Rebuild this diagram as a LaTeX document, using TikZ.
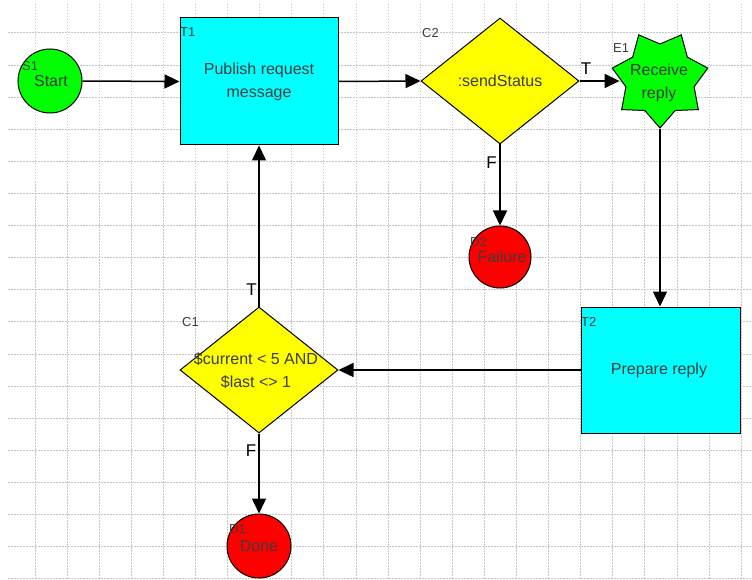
\documentclass[tikz,border=0pt]{standalone}
\usepackage{fontspec}
\setmainfont{Liberation Sans}
\usetikzlibrary{shapes.geometric,arrows.meta}
\definecolor{fgreen}{RGB}{0,255,0}
\definecolor{fcyan}{RGB}{0,255,255}
\definecolor{fyellow}{RGB}{255,255,0}
\definecolor{fred}{RGB}{255,0,0}
\definecolor{txt}{RGB}{60,60,60}
\tikzset{
  gridline/.style={draw=gray!45, line width=1pt, dash pattern=on 1.5pt off 1.5pt},
  shapeborder/.style={draw=black, line width=1pt, inner sep=0pt},
  eventnode/.style={shapeborder, circle, minimum size=64pt},
  tasknode/.style={shapeborder, rectangle, fill=fcyan, minimum width=158pt, minimum height=127pt},
  condnode/.style={shapeborder, diamond, fill=fyellow, minimum width=158pt, minimum height=126pt},
  maintext/.style={text=txt, font=\fontsize{16}{23}\selectfont, align=center, inner sep=0pt},
  idtext/.style={text=txt, font=\fontsize{13}{15}\selectfont, anchor=west, inner sep=0pt},
  tftext/.style={text=black, font=\fontsize{17}{19}\selectfont, inner sep=0pt},
  conn/.style={draw=black, line width=1.5pt, -{Triangle[length=15pt,width=14pt]}},
}
\begin{document}
\begin{tikzpicture}[x=1pt,y=-1pt]
\useasboundingbox (0,0) rectangle (752,580);
% grid
\foreach \k in {0,...,22} {\draw[gridline] ({35+32.1*\k},4) -- ({35+32.1*\k},580);}
\foreach \k in {0,...,17} {\draw[gridline] (8,{33+32.1*\k}) -- (752,{33+32.1*\k});}

% nodes
\node[eventnode, fill=fgreen] (s1) at (50,81) {};
\node[tasknode] (t1) at (259,81.5) {};
\node[condnode] (c2) at (500,81) {};
\node[shapeborder, star, star points=7, star point ratio=1.4, shape border rotate=180, minimum size=98pt, fill=fgreen] (e1) at (660,79) {};
\node[eventnode, fill=fred, minimum size=62pt] (d2) at (500,257) {};
\node[tasknode, minimum width=159pt, minimum height=126pt] (t2) at (660.5,370) {};
\node[condnode] (c1) at (259,370) {};
\node[eventnode, fill=fred] (d1) at (259,546) {};

% connectors
\draw[conn] (s1.east) -- (t1.west);
\draw[conn] (t1.east) -- (c2.west);
\draw[conn] (c2.east) -- (e1.west |- c2.east);
\draw[conn] (c2.south) -- (d2.north);
\draw[conn] (e1.south) -- (e1.south |- t2.north);
\draw[conn] (t2.west) -- (c1.east);
\draw[conn] (c1.north) -- (t1.south);
\draw[conn] (c1.south) -- (d1.north);

% texts
\node[maintext] (s1txt) at (51,81) {Start};
\node[maintext] (t1txt) at (259,82) {Publish request\\message};
\node[maintext] (c2txt) at (500,81) {:sendStatus};
\node[maintext] (e1txt) at (659,83) {Receive\\reply};
\node[maintext] (d2txt) at (502,257) {Failure};
\node[maintext] (t2txt) at (659,370) {Prepare reply};
\node[maintext] (c1txt) at (256,371) {\$current < 5 AND\\\$last <> 1};
\node[maintext] (d1txt) at (259,546) {Done};

% ids
\node[idtext] (s1id) at (22,66) {S1};
\node[idtext] (t1id) at (180,32) {T1};
\node[idtext] (c2id) at (422,33) {C2};
\node[idtext] (e1id) at (613,48) {E1};
\node[idtext] (d2id) at (470,242) {D2};
\node[idtext] (c1id) at (182,322) {C1};
\node[idtext] (d1id) at (229,529) {D1};
\node[idtext] (t2id) at (581,322) {T2};

% T/F labels
\node[tftext] (c2t) at (586,69) {T};
\node[tftext] (c2f) at (491.5,163) {F};
\node[tftext] (c1t) at (251.5,290) {T};
\node[tftext] (c1f) at (251,451) {F};
\end{tikzpicture}
\end{document}
